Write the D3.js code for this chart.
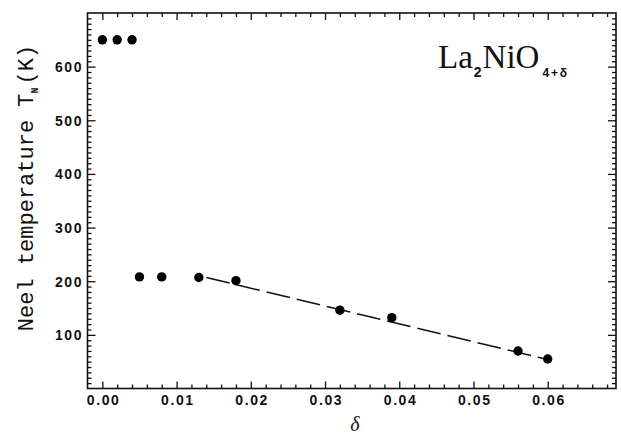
<!DOCTYPE html>
<html>
<head>
<meta charset="utf-8">
<script src="https://cdn.jsdelivr.net/npm/d3@7"></script>
<style>
  html, body { margin: 0; padding: 0; background: #fff; }
  svg { display: block; }
  .tick-label { font-family: "Liberation Sans", Arial, sans-serif; font-weight: bold; font-size: 14px; letter-spacing: 1.6px; fill: #111; }
</style>
</head>
<body>
<svg id="chart" width="621" height="438"></svg>
<script>
// Oxygen excess delta and measured Neel temperature (K)
const delta = [0, 0.002, 0.004, 0.005, 0.008, 0.013, 0.018, 0.032, 0.039, 0.056, 0.060];
const neelT = [650, 650, 650, 208, 208, 207, 201, 146, 132, 70, 55];

// Linear fit through the high-delta points (dashed line)
const fitDelta = [0.014, 0.060];
const fitT = [207, 54];

// Axis ticks
const xMajor = [0, 0.01, 0.02, 0.03, 0.04, 0.05, 0.06];
const xLabels = ["0.00", "0.01", "0.02", "0.03", "0.04", "0.05", "0.06"];
const yMajor = [100, 200, 300, 400, 500, 600];
const yLabels = ["100", "200", "300", "400", "500", "600"];

const xDomain = [-0.002, 0.0692];
const yDomain = [0, 700];

const frame = { left: 87.5, top: 13, right: 616, bottom: 388.5 };
const W = frame.right - frame.left;
const H = frame.bottom - frame.top;

const svg = d3.select("#chart");
const g = svg.append("g").attr("transform", `translate(${frame.left},${frame.top})`);

const x = d3.scaleLinear().domain(xDomain).range([0, W]);
const y = d3.scaleLinear().domain(yDomain).range([H, 0]);

const xMinor = d3.range(0, 0.0690, 0.002).map(v => +v.toFixed(3)).filter(v => !xMajor.some(m => Math.abs(m - v) < 1e-9));
const yMinor = d3.range(10, 700, 10).filter(v => v % 100 !== 0);

function styleAxis(sel) {
  sel.select(".domain").remove();
  sel.selectAll(".tick line").attr("stroke", "#111").attr("stroke-width", 1.3);
}

// Inward ticks on all four sides
g.append("g").attr("transform", `translate(0,${H})`)
  .call(d3.axisBottom(x).tickValues(xMajor).tickSize(-7).tickPadding(7)
    .tickFormat((d, i) => xLabels[i]))
  .call(styleAxis)
  .call(s => s.selectAll("text").attr("class", "tick-label").attr("fill", null).attr("font-size", null).attr("font-family", null).attr("dx", "0.8"));
g.append("g").attr("transform", `translate(0,${H})`)
  .call(d3.axisBottom(x).tickValues(xMinor).tickSize(-4).tickFormat(""))
  .call(styleAxis);
g.append("g")
  .call(d3.axisTop(x).tickValues(xMajor).tickSize(-7).tickFormat(""))
  .call(styleAxis);
g.append("g")
  .call(d3.axisTop(x).tickValues(xMinor).tickSize(-4).tickFormat(""))
  .call(styleAxis);

g.append("g")
  .call(d3.axisLeft(y).tickValues(yMajor).tickSize(-8).tickPadding(6)
    .tickFormat((d, i) => yLabels[i]))
  .call(styleAxis)
  .call(s => s.selectAll("text").attr("class", "tick-label").attr("fill", null).attr("font-size", null).attr("font-family", null).attr("dx", "1.6").attr("dy", "0.36em"));
g.append("g")
  .call(d3.axisLeft(y).tickValues(yMinor).tickSize(-4).tickFormat(""))
  .call(styleAxis);
g.append("g").attr("transform", `translate(${W},0)`)
  .call(d3.axisRight(y).tickValues(yMajor).tickSize(-8).tickFormat(""))
  .call(styleAxis);
g.append("g").attr("transform", `translate(${W},0)`)
  .call(d3.axisRight(y).tickValues(yMinor).tickSize(-4).tickFormat(""))
  .call(styleAxis);

// Plot frame
g.append("rect")
  .attr("x", 0).attr("y", 0).attr("width", W).attr("height", H)
  .attr("fill", "none").attr("stroke", "#111").attr("stroke-width", 1.6);

// Dashed fit line
const line = d3.line().x(d => x(d[0])).y(d => y(d[1]));
g.append("path")
  .datum(fitDelta.map((d, i) => [d, fitT[i]]))
  .attr("d", line)
  .attr("fill", "none").attr("stroke", "#111").attr("stroke-width", 1.5)
  .attr("stroke-dasharray", "24,7");

// Data points
g.selectAll("circle.pt")
  .data(delta.map((d, i) => [d, neelT[i]]))
  .join("circle")
  .attr("class", "pt")
  .attr("cx", d => x(d[0])).attr("cy", d => y(d[1]))
  .attr("r", 4.7).attr("fill", "#000");

// Compound label
const formula = svg.append("text")
  .attr("x", 438).attr("y", 67.5)
  .attr("font-family", "'Liberation Serif', 'Times New Roman', serif")
  .attr("font-size", 33).attr("fill", "#111");
formula.append("tspan").text("La");
formula.append("tspan").attr("dy", 9.5).attr("dx", 1).attr("font-family", "'Liberation Sans', Arial, sans-serif")
  .attr("font-weight", "bold").attr("font-size", 14).text("2");
formula.append("tspan").attr("dy", -9.5).attr("dx", 1).text("NiO");
formula.append("tspan").attr("dy", 9.5).attr("dx", 3).attr("font-family", "'Liberation Sans', Arial, sans-serif")
  .attr("font-weight", "bold").attr("font-size", 12).attr("letter-spacing", 1.8).text("4+δ");

// Axis titles
const yTitle = svg.append("text")
  .attr("transform", `translate(33,188) rotate(-90)`)
  .attr("text-anchor", "middle")
  .attr("font-family", "'Courier New', Courier, 'Liberation Mono', monospace")
  .attr("font-size", 22).attr("fill", "#111");
yTitle.append("tspan").text("Neel temperature  T");
yTitle.append("tspan").attr("dy", 5).attr("font-size", 10).attr("font-weight", "bold").text("N");
yTitle.append("tspan").attr("dy", -5).attr("dx", 3).text("(K)");

svg.append("text")
  .attr("x", 355).attr("y", 431)
  .attr("text-anchor", "middle")
  .attr("font-family", "'Liberation Serif', 'Times New Roman', serif")
  .attr("font-style", "italic").attr("font-size", 20).attr("fill", "#111")
  .text("δ");
</script>
</body>
</html>
